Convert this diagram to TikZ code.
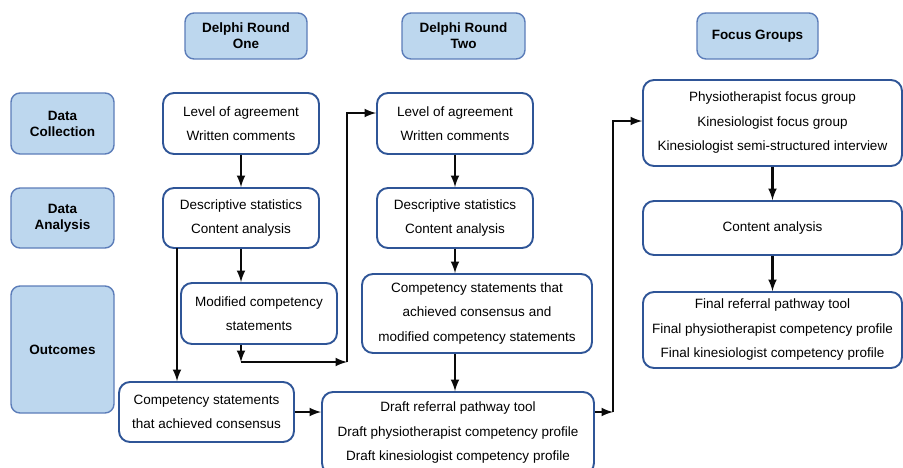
\documentclass[tikz,border=0pt]{standalone}
\usepackage{fontspec}
\setmainfont{Liberation Sans}
\usepackage{tikz}
\usetikzlibrary{arrows}

\begin{document}
\begin{tikzpicture}[x=1pt, y=-1pt, >=latex]
				\definecolor{HEAD_FILL}{RGB}{189, 215, 238}
				\definecolor{HEAD_EDGE}{RGB}{92, 125, 185}
				\definecolor{BOX_EDGE}{RGB}{47, 85, 151}
				\definecolor{ALMOST_BLACK}{RGB}{10, 10, 10}
				\tikzset{
					headbox/.style={draw=HEAD_EDGE, line width=1.4pt, fill=HEAD_FILL, rounded corners=9pt,
						align=center, inner sep=0pt, font=\fontsize{13.5}{16}\selectfont\bfseries},
					textbox/.style={draw=BOX_EDGE, line width=1.9pt, fill=white, rounded corners=11pt,
						align=center, inner sep=0pt, font=\fontsize{13.5}{24.5}\selectfont},
					flow/.style={->, line width=2.9pt, color=ALMOST_BLACK}
				}
				\useasboundingbox (0,0) rectangle (903,467);
				
				% column and row headings
				\node[headbox, minimum width=122, minimum height=46] (roundOneHead) at (246,36) {Delphi Round\\One};
				\node[headbox, minimum width=123, minimum height=46] (roundTwoHead) at (463.5,36) {Delphi Round\\Two};
				\node[headbox, minimum width=121, minimum height=46] (focusHead) at (757.5,36) {Focus Groups};
				\node[headbox, minimum width=103, minimum height=61] (collectHead) at (62.5,123.5) {Data\\Collection};
				\node[headbox, minimum width=103, minimum height=60] (analyseHead) at (62.5,218) {Data\\Analysis};
				\node[headbox, minimum width=103, minimum height=127] (outcomeHead) at (62.5,349.5) {Outcomes};
				
				% round one
				\node[textbox, minimum width=156, minimum height=61] (roundOneCollect) at (241,123.5) {Level of agreement\\Written comments};
				\node[textbox, minimum width=156, minimum height=60] (roundOneAnalyse) at (241,218) {Descriptive statistics\\Content analysis};
				\node[textbox, minimum width=156, minimum height=61] (roundOneModified) at (259,313.5) {Modified competency\\statements};
				\node[textbox, minimum width=175, minimum height=60] (roundOneConsensus) at (206.5,412) {Competency statements\\that achieved consensus};
				
				% round two
				\node[textbox, minimum width=156, minimum height=61] (roundTwoCollect) at (455,123.5) {Level of agreement\\Written comments};
				\node[textbox, minimum width=156, minimum height=60] (roundTwoAnalyse) at (455,218) {Descriptive statistics\\Content analysis};
				\node[textbox, minimum width=230, minimum height=79] (roundTwoOutcome) at (477,313.5) {Competency statements that\\achieved consensus and\\modified competency statements};
				\node[textbox, minimum width=272, minimum height=82] (draftTools) at (458,433) {Draft referral pathway tool\\Draft physiotherapist competency profile\\Draft kinesiologist competency profile};
				
				% focus groups
				\node[textbox, minimum width=259, minimum height=86] (focusCollect) at (772.5,123) {Physiotherapist focus group\\Kinesiologist focus group\\Kinesiologist semi-structured interview};
				\node[textbox, minimum width=259, minimum height=54] (focusAnalyse) at (772.5,228) {Content analysis};
				\node[textbox, minimum width=259, minimum height=76] (finalTools) at (772.5,330) {Final referral pathway tool\\Final physiotherapist competency profile\\Final kinesiologist competency profile};
				
				\coordinate (consensusDrop) at (177,248);
				\coordinate (loopCorner) at (241,362);
				\coordinate (loopRiser) at (347,362);
				\coordinate (loopEntry) at (347,113);
				\coordinate (focusRiser) at (613,121);
				
				\draw[flow] (roundOneCollect.south) -- (roundOneAnalyse.north);
				\draw[flow] (roundOneAnalyse.south) -- (roundOneAnalyse.south |- roundOneModified.north);
				\draw[flow] (consensusDrop) -- (consensusDrop |- roundOneConsensus.north);
				\draw[flow] (loopCorner |- roundOneModified.south) -- (loopCorner);
				\draw[flow] (loopCorner) -- (loopRiser);
				\draw[flow] (loopRiser) -- (loopEntry) -- (loopEntry -| roundTwoCollect.west);
				\draw[flow] (roundOneConsensus.east) -- (roundOneConsensus.east -| draftTools.west);
				
				\draw[flow] (roundTwoCollect.south) -- (roundTwoAnalyse.north);
				\draw[flow] (roundTwoAnalyse.south) -- (roundTwoAnalyse.south |- roundTwoOutcome.north);
				\draw[flow] (roundTwoAnalyse.south |- roundTwoOutcome.south) -- (roundTwoAnalyse.south |- draftTools.north);
				\draw[flow] (draftTools.east |- roundOneConsensus.east) -- (focusRiser |- roundOneConsensus.east);
				\draw[flow] (focusRiser |- roundOneConsensus.east) -- (focusRiser) -- (focusRiser -| focusCollect.west);
				
				\draw[flow] (focusCollect.south) -- (focusAnalyse.north);
				\draw[flow] (focusAnalyse.south) -- (finalTools.north);
			\end{tikzpicture}
\end{document}
